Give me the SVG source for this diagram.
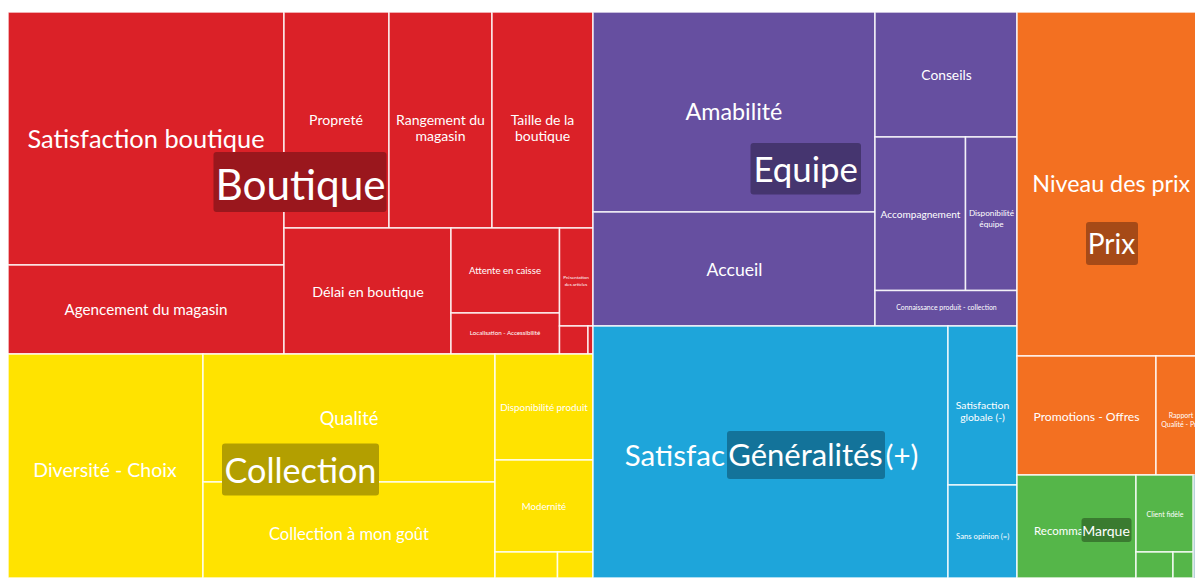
<svg xmlns="http://www.w3.org/2000/svg" width="1195" height="578" viewBox="0 0 1195 578">
<style>
  .t rect.tile { stroke: #ffffff; stroke-opacity: 0.85; stroke-width: 1.5; }
  .red { fill: #db2128; }
  .yel { fill: #ffe300; }
  .pur { fill: #664fa0; }
  .blu { fill: #1ea5da; }
  .ora { fill: #f37021; }
  .grn { fill: #55b649; }
  text { font-family: Lato, "Open Sans", "Liberation Sans", sans-serif; fill: #ffffff; text-anchor: middle; }
  .lbl { rx: 3; ry: 3; }
</style>
<rect x="0" y="0" width="1195" height="578" fill="#ffffff"/>

<g id="boutique" class="t">
  <g id="satisfaction-boutique"><rect class="tile red" x="8" y="12" width="276" height="253"/><text x="146" y="148" font-size="25.4">Satisfaction boutique</text></g>
  <g id="agencement-du-magasin"><rect class="tile red" x="8" y="265" width="276" height="89"/><text x="146" y="315" font-size="15.2">Agencement du magasin</text></g>
  <g id="proprete"><rect class="tile red" x="284" y="12" width="105" height="216"/><text x="336" y="125" font-size="14.1">Propreté</text></g>
  <g id="rangement-du-magasin"><rect class="tile red" x="389" y="12" width="103" height="216"/><text x="440.5" y="125" font-size="14">Rangement du</text><text x="440.5" y="141" font-size="14">magasin</text></g>
  <g id="taille-de-la-boutique"><rect class="tile red" x="492" y="12" width="101" height="216"/><text x="542.5" y="125" font-size="14">Taille de la</text><text x="542.5" y="141" font-size="14">boutique</text></g>
  <g id="delai-en-boutique"><rect class="tile red" x="284" y="228" width="167" height="126"/><text x="368" y="297" font-size="14.3">Délai en boutique</text></g>
  <g id="attente-en-caisse"><rect class="tile red" x="451" y="228" width="108.5" height="85"/><text x="505" y="273.5" font-size="9.6">Attente en caisse</text></g>
  <g id="localisation-accessibilite"><rect class="tile red" x="451" y="313" width="108.5" height="41"/><text x="505" y="335" font-size="6.2">Localisation - Accessibilité</text></g>
  <g id="presentation-des-articles"><rect class="tile red" x="559.5" y="228" width="33.5" height="98"/><text x="576" y="278.5" font-size="4.6">Présentation</text><text x="576" y="286" font-size="4.6">des articles</text></g>
  <g id="boutique-small-1"><rect class="tile red" x="559.5" y="326" width="28.5" height="28"/></g>
  <g id="boutique-small-2"><rect class="tile red" x="588" y="326" width="5" height="28"/></g>
  <g id="boutique-label"><rect class="lbl" x="213.5" y="152" width="173" height="60" fill="#9a171d"/><text x="300.5" y="200" font-size="42.3">Boutique</text></g>
</g>

<g id="collection" class="t">
  <g id="diversite-choix"><rect class="tile yel" x="8" y="354" width="195" height="224"/><text x="105" y="477" font-size="19.5">Diversité - Choix</text></g>
  <g id="qualite"><rect class="tile yel" x="203" y="354" width="292" height="128"/><text x="349" y="425" font-size="18.3">Qualité</text></g>
  <g id="collection-a-mon-gout"><rect class="tile yel" x="203" y="482" width="292" height="96"/><text x="349" y="539.5" font-size="16.6">Collection à mon goût</text></g>
  <g id="disponibilite-produit"><rect class="tile yel" x="495" y="354" width="98" height="106"/><text x="544" y="410.5" font-size="9.8">Disponibilité produit</text></g>
  <g id="modernite"><rect class="tile yel" x="495" y="460" width="98" height="92"/><text x="544" y="509.5" font-size="9.6">Modernité</text></g>
  <g id="collection-small-1"><rect class="tile yel" x="495" y="552" width="62.5" height="26"/></g>
  <g id="collection-small-2"><rect class="tile yel" x="557.5" y="552" width="35.5" height="26"/></g>
  <g id="collection-label"><rect class="lbl" x="222" y="443.5" width="157" height="52" fill="#b39f00"/><text x="300.5" y="483" font-size="34.2">Collection</text></g>
</g>

<g id="equipe" class="t">
  <g id="amabilite"><rect class="tile pur" x="593" y="12" width="282" height="200"/><text x="734" y="120" font-size="23.3">Amabilité</text></g>
  <g id="accueil"><rect class="tile pur" x="593" y="212" width="282" height="114"/><text x="734.5" y="276" font-size="17.6">Accueil</text></g>
  <g id="conseils"><rect class="tile pur" x="875" y="12" width="142" height="125"/><text x="946.5" y="79.5" font-size="13.8">Conseils</text></g>
  <g id="accompagnement"><rect class="tile pur" x="875" y="137" width="90.5" height="153.5"/><text x="920.5" y="217.5" font-size="10.1">Accompagnement</text></g>
  <g id="disponibilite-equipe"><rect class="tile pur" x="965.5" y="137" width="51.5" height="153.5"/><text x="991.5" y="216" font-size="8.2">Disponibilité</text><text x="991.5" y="226.7" font-size="8.2">équipe</text></g>
  <g id="connaissance-produit-collection"><rect class="tile pur" x="875" y="290.5" width="142" height="35.5"/><text x="946.5" y="309.5" font-size="6.9">Connaissance produit - collection</text></g>
  <g id="equipe-label"><rect class="lbl" x="750.5" y="143" width="110.5" height="51.5" fill="#45356f"/><text x="805.7" y="182" font-size="34.8">Equipe</text></g>
</g>

<g id="generalites" class="t">
  <g id="satisfaction-globale-plus"><rect class="tile blu" x="593" y="326" width="355" height="252"/><text x="725" y="466" font-size="29.5" style="text-anchor:end">Satisfac</text><text x="885.5" y="466" font-size="29.5" style="text-anchor:start">(+)</text></g>
  <g id="satisfaction-globale-moins"><rect class="tile blu" x="948" y="326" width="69" height="159"/><text x="982.5" y="408.5" font-size="10.4">Satisfaction</text><text x="982.5" y="420.8" font-size="10.4">globale (-)</text></g>
  <g id="sans-opinion"><rect class="tile blu" x="948" y="485" width="69" height="93"/><text x="982.7" y="538.5" font-size="7.7">Sans opinion (=)</text></g>
  <g id="generalites-label"><rect class="lbl" x="727" y="431" width="158" height="48" fill="#13739a"/><text x="805.5" y="466" font-size="31">Généralités</text></g>
</g>

<g id="prix" class="t">
  <g id="niveau-des-prix"><rect class="tile ora" x="1017" y="12" width="190" height="344"/><text x="1111.3" y="192" font-size="23.3">Niveau des prix</text></g>
  <g id="promotions-offres"><rect class="tile ora" x="1017" y="356" width="139" height="119"/><text x="1086.5" y="421" font-size="12.2">Promotions - Offres</text></g>
  <g id="rapport-qualite-prix"><rect class="tile ora" x="1156" y="356" width="50" height="119"/><text x="1181" y="417.5" font-size="7">Rapport</text><text x="1181.5" y="426.5" font-size="7">Qualité - Prix</text></g>
  <g id="prix-label"><rect class="lbl" x="1086" y="222" width="52" height="43" fill="#a64a17"/><text x="1111.5" y="254" font-size="28">Prix</text></g>
</g>

<g id="marque" class="t">
  <g id="recommandation"><rect class="tile grn" x="1017" y="475" width="119" height="103"/><text x="1034" y="535" font-size="11.5" style="text-anchor:start">Recomma</text></g>
  <g id="client-fidele"><rect class="tile grn" x="1136" y="475" width="57" height="77"/><text x="1165" y="517" font-size="7">Client fidèle</text></g>
  <g id="marque-small-1"><rect class="tile grn" x="1136" y="552" width="37" height="26"/></g>
  <g id="marque-small-2"><rect class="tile grn" x="1173" y="552" width="20" height="26"/></g>
  <g id="marque-edge"><rect x="1193.5" y="475" width="2" height="103" fill="#b7d3da"/></g>
  <g id="marque-label"><rect class="lbl" x="1081.5" y="518" width="50" height="24" fill="#3a7b30"/><text x="1106" y="535.5" font-size="14">Marque</text></g>
</g>
</svg>
